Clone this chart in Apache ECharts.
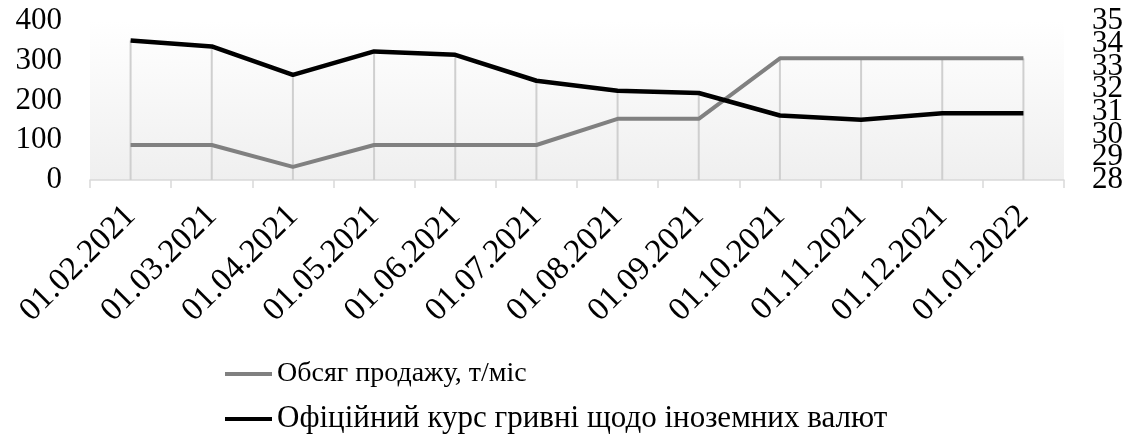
<!DOCTYPE html>
<html>
<head>
<meta charset="utf-8">
<script src="https://cdn.jsdelivr.net/npm/echarts@6/dist/echarts.min.js"></script>
<style>
html,body{margin:0;padding:0;background:#fff;}
#chart{width:1131px;height:443px;}
</style>
</head>
<body>
<div id="chart"></div>
<script>
const categories = ['01.02.2021','01.03.2021','01.04.2021','01.05.2021','01.06.2021','01.07.2021','01.08.2021','01.09.2021','01.10.2021','01.11.2021','01.12.2021','01.01.2022'];
const salesVolume = [88, 88, 33, 88, 88, 88, 154, 154, 306, 306, 306, 306];
const exchangeRate = [34.14, 33.88, 32.63, 33.66, 33.51, 32.37, 31.93, 31.83, 30.84, 30.65, 30.94, 30.94];
const leftTicks = {min: 0, max: 400, interval: 100};
const rightTicks = {min: 28, max: 35, interval: 1};
const seriesNames = ['Обсяг продажу, т/міс', 'Офіційний курс гривні щодо іноземних валют'];

const FONT = "'Liberation Serif', 'Times New Roman', serif";
const chart = echarts.init(document.getElementById('chart'));

function rightToLeft(v) {
  return (v - rightTicks.min) / (rightTicks.max - rightTicks.min) * (leftTicks.max - leftTicks.min) + leftTicks.min;
}
const dropData = categories.map((c, i) => [i, salesVolume[i], rightToLeft(exchangeRate[i])]);

const rightLabel = {margin: 28, fontFamily: FONT, fontSize: 31, color: '#000', hideOverlap: false};

chart.setOption({
  animation: false,
  backgroundColor: '#fff',
  grid: {
    left: 90, right: 67, top: 21, bottom: 263,
    show: true, borderWidth: 0,
    backgroundColor: {
      type: 'linear', x: 0, y: 0, x2: 0, y2: 1,
      colorStops: [{offset: 0, color: '#ffffff'}, {offset: 1, color: '#efefef'}]
    }
  },
  legend: {
    orient: 'vertical', left: 220, top: 354,
    itemWidth: 47, itemHeight: 4, itemGap: 14,
    icon: 'rect',
    formatter: function (name) {
      return name === seriesNames[0] ? '{a|' + name + '}' : '{b|' + name + '}';
    },
    textStyle: {
      fontFamily: FONT, fontSize: 28, color: '#000', lineHeight: 30,
      rich: {
        a: {fontFamily: FONT, fontSize: 28, color: '#000', lineHeight: 30},
        b: {fontFamily: FONT, fontSize: 31, color: '#000', lineHeight: 32}
      }
    },
    data: seriesNames
  },
  xAxis: {
    type: 'category', data: categories, boundaryGap: true,
    axisLine: {lineStyle: {color: '#d9d9d9', width: 1.5}},
    axisTick: {show: true, length: 8, lineStyle: {color: '#d9d9d9', width: 1.5}},
    splitLine: {show: false},
    axisLabel: {rotate: 45, interval: 0, margin: 31, fontFamily: FONT, fontSize: 33, color: '#000'}
  },
  yAxis: [{
    type: 'value', min: leftTicks.min, max: leftTicks.max, interval: leftTicks.interval,
    axisLine: {show: false}, axisTick: {show: false}, splitLine: {show: false},
    axisLabel: {margin: 28, fontFamily: FONT, fontSize: 31, color: '#000', showMinLabel: true, showMaxLabel: true}
  }, {
    type: 'value', min: rightTicks.min, max: rightTicks.max, interval: rightTicks.interval,
    position: 'right',
    axisLine: {show: false}, axisTick: {show: false}, splitLine: {show: false},
    axisLabel: Object.assign({showMinLabel: false, showMaxLabel: false}, rightLabel)
  }, {
    type: 'value', min: rightTicks.min, max: rightTicks.max,
    interval: rightTicks.max - rightTicks.min,
    position: 'right', offset: 0,
    axisLine: {show: false}, axisTick: {show: false}, splitLine: {show: false},
    axisLabel: Object.assign({showMinLabel: true, showMaxLabel: true}, rightLabel)
  }],
  series: [{
    type: 'custom', yAxisIndex: 0, z: 1, silent: true,
    data: dropData,
    renderItem: function (params, api) {
      const i = api.value(0);
      const pTop1 = api.coord([i, api.value(1)]);
      const pTop2 = api.coord([i, api.value(2)]);
      const pBase = api.coord([i, 0]);
      return {
        type: 'line',
        shape: {x1: pBase[0], y1: Math.min(pTop1[1], pTop2[1]), x2: pBase[0], y2: pBase[1]},
        style: {stroke: '#cfcfcf', lineWidth: 2}
      };
    }
  }, {
    name: seriesNames[0], type: 'line', yAxisIndex: 0, z: 3,
    data: salesVolume, symbol: 'none',
    lineStyle: {color: '#808080', width: 4},
    itemStyle: {color: '#808080'}
  }, {
    name: seriesNames[1], type: 'line', yAxisIndex: 1, z: 4,
    data: exchangeRate, symbol: 'none',
    lineStyle: {color: '#000000', width: 4.5},
    itemStyle: {color: '#000000'}
  }]
});
</script>
</body>
</html>
